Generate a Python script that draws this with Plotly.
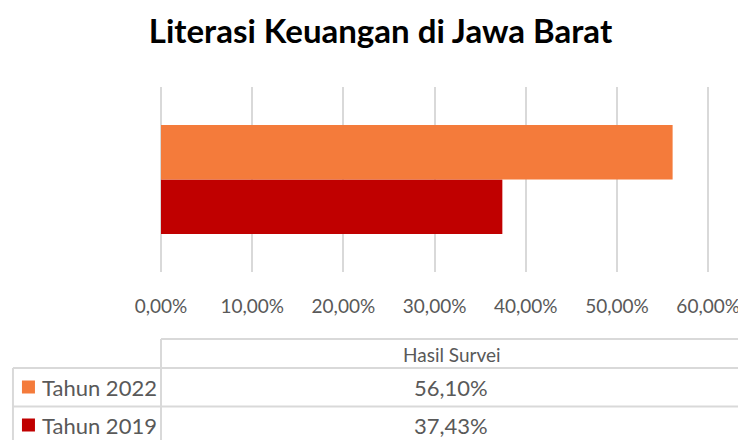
import plotly.graph_objects as go

# ---- data ----
category = ["Hasil Survei"]
values_2019 = [37.43]
values_2022 = [56.10]
tick_values = [0, 10, 20, 30, 40, 50, 60]
colors = {"Tahun 2022": "#F47B3B", "Tahun 2019": "#C00000"}
title_text = "Literasi Keuangan di Jawa Barat"

def fmt(v):
    return f"{v:.2f}".replace(".", ",") + "%"

W_FIG, H_FIG = 738, 440
XMAX = 60.2
L, T, B = 161, 87, 272
R = L + XMAX * (547 / 60)
PW, PH = R - L, B - T

def px(x):
    return (x - L) / PW

def py(y):
    return (B - y) / PH

FONT = "Lato, 'Open Sans', sans-serif"
GRAY = "#595959"
LINE = "#D9D9D9"

fig = go.Figure()
fig.add_trace(go.Bar(y=category, x=values_2019, orientation="h", name="Tahun 2019",
                     marker=dict(color=colors["Tahun 2019"], line=dict(width=0))))
fig.add_trace(go.Bar(y=category, x=values_2022, orientation="h", name="Tahun 2022",
                     marker=dict(color=colors["Tahun 2022"], line=dict(width=0))))

fig.update_layout(
    width=W_FIG, height=H_FIG,
    margin=dict(l=L, r=W_FIG - R, t=T, b=H_FIG - B, pad=0, autoexpand=False),
    paper_bgcolor="white", plot_bgcolor="white",
    barmode="group", bargap=0.41, bargroupgap=0,
    showlegend=False,
    separators=",.",
    title=dict(text="<b>" + title_text + "</b>", x=380.5 / W_FIG, xanchor="center",
               y=1 - 31 / H_FIG, yanchor="middle",
               font=dict(family=FONT, size=33, color="black")),
    xaxis=dict(range=[0, XMAX], tickmode="array", tickvals=tick_values,
               ticktext=[fmt(v) for v in tick_values], automargin=False,
               ticklabeloverflow="allow",
               showgrid=True, gridcolor=LINE, gridwidth=1.5,
               zeroline=True, zerolinecolor=LINE, zerolinewidth=1.5,
               showline=False, ticks="outside", ticklen=17, tickcolor="rgba(0,0,0,0)",
               tickfont=dict(family=FONT, size=19, color=GRAY)),
    yaxis=dict(showticklabels=False, showgrid=False, zeroline=False, showline=False,
               automargin=False),
)

shapes = []
def hline(y, x0, x1):
    shapes.append(dict(type="line", xref="paper", yref="paper", x0=px(x0), x1=px(x1),
                       y0=py(y), y1=py(y), line=dict(color=LINE, width=2)))
def vline(x, y0, y1):
    shapes.append(dict(type="line", xref="paper", yref="paper", x0=px(x), x1=px(x),
                       y0=py(y0), y1=py(y1), line=dict(color=LINE, width=2)))

hline(339, 161, 745)
hline(368, 13, 745)
hline(406.5, 13, 745)
vline(161, 339, 445)
vline(13, 368, 445)

rows = [("Tahun 2022", values_2022[0], 387), ("Tahun 2019", values_2019[0], 425)]
annotations = [dict(text=category[0], xref="paper", yref="paper", x=px(452), y=py(354),
                    xanchor="center", yanchor="middle", showarrow=False,
                    font=dict(family=FONT, size=19, color=GRAY))]
for name, val, yc in rows:
    shapes.append(dict(type="rect", xref="paper", yref="paper",
                       x0=px(22), x1=px(35), y0=py(yc - 6.5), y1=py(yc + 6.5),
                       fillcolor=colors[name], line=dict(width=0)))
    annotations.append(dict(text=name, xref="paper", yref="paper", x=px(40), y=py(yc),
                            xanchor="left", yanchor="middle", showarrow=False,
                            font=dict(family=FONT, size=22, color=GRAY)))
    annotations.append(dict(text=fmt(val), xref="paper", yref="paper",
                            x=px(451), y=py(yc), xanchor="center", yanchor="middle",
                            showarrow=False, font=dict(family=FONT, size=22, color=GRAY)))

fig.update_layout(shapes=shapes, annotations=annotations)
fig.write_html("out.html", config={"displayModeBar": False},
               post_script="document.body.style.margin='0';")
